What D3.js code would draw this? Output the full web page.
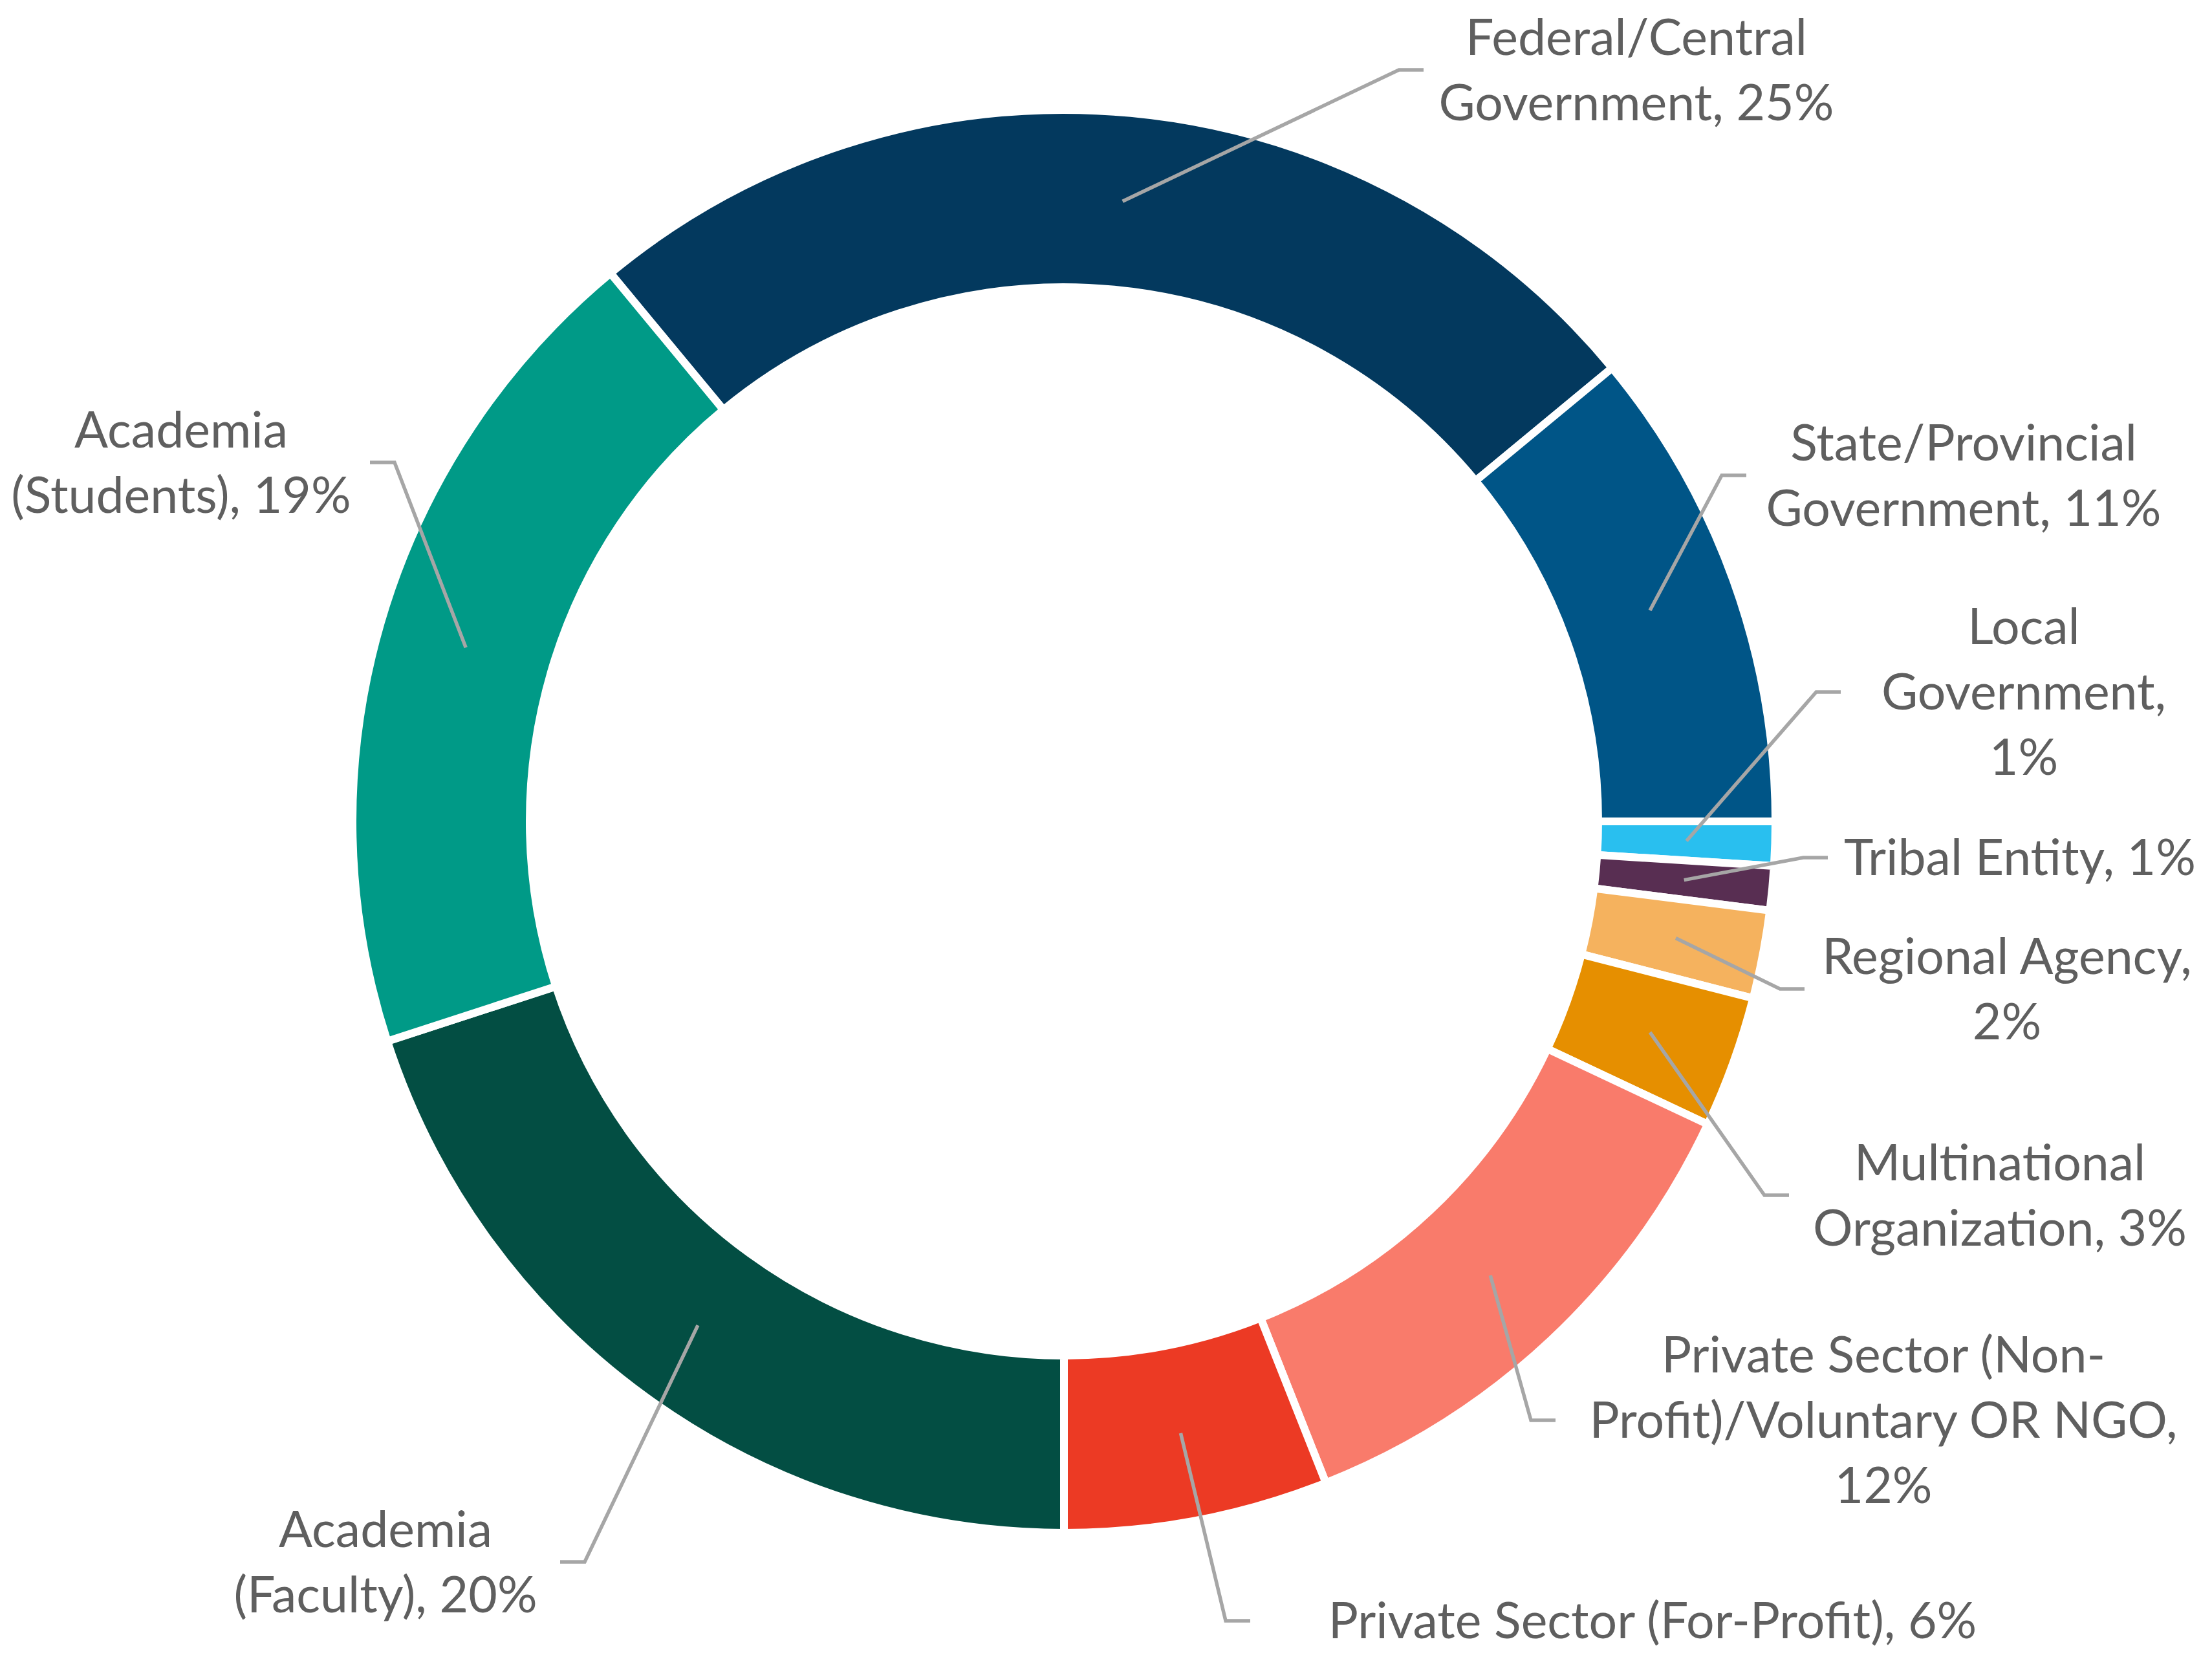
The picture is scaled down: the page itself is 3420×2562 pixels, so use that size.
<!DOCTYPE html>
<html>
<head>
<meta charset="utf-8">
<script src="https://cdn.jsdelivr.net/npm/d3@7"></script>
<style>
  body { margin: 0; background: #fff; }
  svg { display: block; }
  .lbl { font-family: Lato, "Open Sans", sans-serif; font-size: 77px; fill: #5f5f5f; }
</style>
</head>
<body>
<svg width="3420" height="2562"></svg>
<script>
// data
const categories = [
  'Federal/Central Government', 'State/Provincial Government', 'Local Government',
  'Tribal Entity', 'Regional Agency', 'Multinational Organization',
  'Private Sector (Non-Profit)/Voluntary OR NGO', 'Private Sector (For-Profit)',
  'Academia (Faculty)', 'Academia (Students)'
];
const shares = [25, 11, 1, 1, 2, 3, 12, 6, 20, 19];
const colors = ['#03395e', '#005587', '#29bfef', '#582e52', '#f5b25e',
                '#e68f00', '#f97b6b', '#ec3a24', '#034e43', '#009a87'];
// label text, '%' token gets the share
const labelLines = [
  ['Federal/Central', 'Government, %'],
  ['State/Provincial', 'Government, %'],
  ['Local', 'Government,', '%'],
  ['Tribal Entity, %'],
  ['Regional Agency,', '%'],
  ['Multinational', 'Organization, %'],
  ['Private Sector (Non-', 'Profit)/Voluntary OR NGO,', '%'],
  ['Private Sector (For-Profit), %'],
  ['Academia', '(Faculty), %'],
  ['Academia', '(Students), %']
];

// label placement (cx, cy = label block centre, ex = leader end, dir = side of label)
const labelPos = [
  {cx: 2530, cy: 108,  ex: 2201, dir: 1},
  {cx: 3036, cy: 735,  ex: 2700, dir: 1},
  {cx: 3129, cy: 1070, ex: 2846, dir: 1},
  {cx: 3123, cy: 1326, ex: 2826, dir: 1},
  {cx: 3103, cy: 1529, ex: 2790, dir: 1},
  {cx: 3092, cy: 1848, ex: 2766, dir: 1},
  {cx: 2912, cy: 2196, ex: 2405, dir: 1},
  {cx: 2555, cy: 2506, ex: 1933, dir: 1},
  {cx: 596,  cy: 2415, ex: 866,  dir: -1},
  {cx: 280,  cy: 715,  ex: 572,  dir: -1}
];

const svg = d3.select('svg');
const cx = 1645, cy = 1270;
const outerR = 1100, innerR = 826;
const lineH = 101;
const stub = 38;

const deg = a => a * Math.PI / 180;
const pie = d3.pie().sort(null).value(d => d)
    .startAngle(deg(-39.6)).endAngle(deg(320.4));
const arc = d3.arc().innerRadius(innerR).outerRadius(outerR);

const arcs = pie(shares);

const g = svg.append('g').attr('transform', `translate(${cx},${cy})`);

g.selectAll('path.slice').data(arcs)
  .enter().append('path')
    .attr('class', 'slice')
    .attr('d', arc)
    .attr('fill', (d, i) => colors[i])
    .attr('stroke', '#fff')
    .attr('stroke-width', 12);

// leader lines
svg.append('g').selectAll('path.leader').data(arcs)
  .enter().append('path')
    .attr('class', 'leader')
    .attr('fill', 'none')
    .attr('stroke', '#a6a6a6')
    .attr('stroke-width', 5.5)
    .attr('d', (d, i) => {
        const c = arc.centroid(d);
        const p = labelPos[i];
        const elbowX = p.ex - p.dir * stub;
        return d3.line()([[cx + c[0], cy + c[1]], [elbowX, p.cy], [p.ex, p.cy]]);
    });

// labels
const labels = svg.append('g').selectAll('text').data(arcs)
  .enter().append('text')
    .attr('class', 'lbl')
    .attr('text-anchor', 'middle');

labels.each(function(d, i) {
    const lines = labelLines[i].map(s => s.replace('%', shares[i] + '%'));
    const p = labelPos[i];
    const first = p.cy + 27 - (lines.length - 1) * lineH / 2;
    d3.select(this).selectAll('tspan').data(lines)
      .enter().append('tspan')
        .attr('x', p.cx)
        .attr('y', (s, k) => first + k * lineH)
        .text(s => s);
});
</script>
</body>
</html>
